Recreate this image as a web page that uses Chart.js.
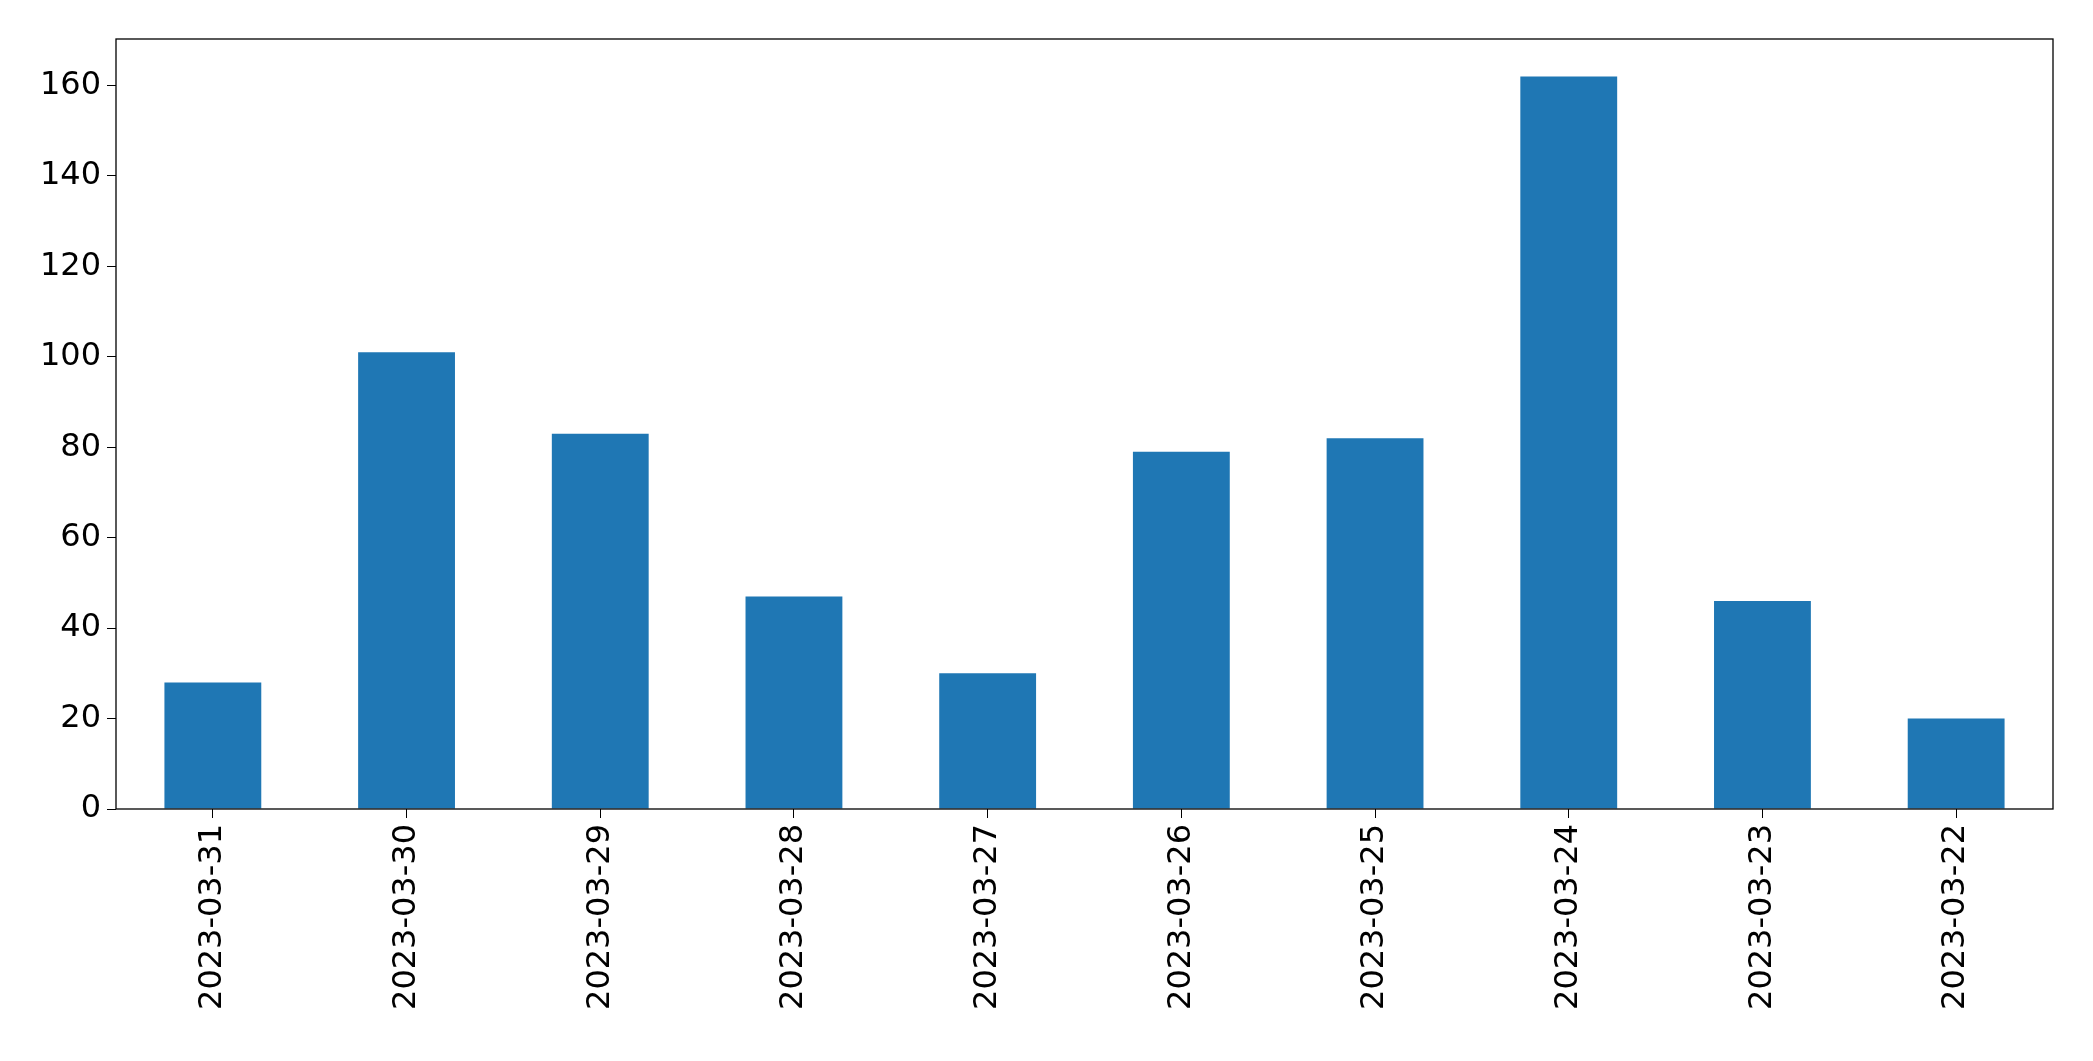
<!DOCTYPE html>
<html><head><meta charset="utf-8">
<script src="https://cdn.jsdelivr.net/npm/chart.js@4"></script>
<style>html,body{margin:0;padding:0;background:#fff}#w{width:2093px;height:1061px}</style>
</head><body><div id="w"><canvas id="c"></canvas></div>
<script>
const categories = ["2023-03-31","2023-03-30","2023-03-29","2023-03-28","2023-03-27","2023-03-26","2023-03-25","2023-03-24","2023-03-23","2023-03-22"];
const values = [28, 101, 83, 47, 30, 79, 82, 162, 46, 20];
const yTicks = [0, 20, 40, 60, 80, 100, 120, 140, 160];

const frame = {
  id: 'frame',
  afterDraw(chart) {
    const a = chart.chartArea, ctx = chart.ctx;
    ctx.save(); ctx.strokeStyle = '#000'; ctx.lineWidth = 1.3;
    ctx.strokeRect(a.left, a.top, a.right - a.left, a.bottom - a.top);
    ctx.restore();
  }
};
new Chart(document.getElementById('c'), {
  type: 'bar',
  data: { labels: categories, datasets: [{ data: values, backgroundColor: '#1f77b4', barPercentage: 0.5, categoryPercentage: 1 }] },
  options: {
    responsive: true, maintainAspectRatio: false, animation: false,
    layout: { padding: { top: 39, right: 40, left: 0, bottom: 0 } },
    plugins: { legend: { display: false }, tooltip: { enabled: false } },
    scales: {
      x: {
        offset: true,
        grid: { display: true, drawOnChartArea: false, drawTicks: true, tickLength: 9, color: '#000', offset: false },
        border: { display: false },
        ticks: { color: '#000', font: { family: 'DejaVu Sans', size: 32 }, maxRotation: 90, minRotation: 90, padding: 6, autoSkip: false },
        afterFit(s) { s.height = 252; }
      },
      y: {
        min: 0, max: 170.3,
        afterBuildTicks(s) { s.ticks = yTicks.map(v => ({ value: v })); },
        grid: { display: true, drawOnChartArea: false, drawTicks: true, tickLength: 9, color: '#000' },
        border: { display: false },
        ticks: { color: '#000', font: { family: 'DejaVu Sans', size: 32 }, padding: 6 },
        afterFit(s) { s.width = 116; }
      }
    }
  },
  plugins: [frame]
});
</script></body></html>
